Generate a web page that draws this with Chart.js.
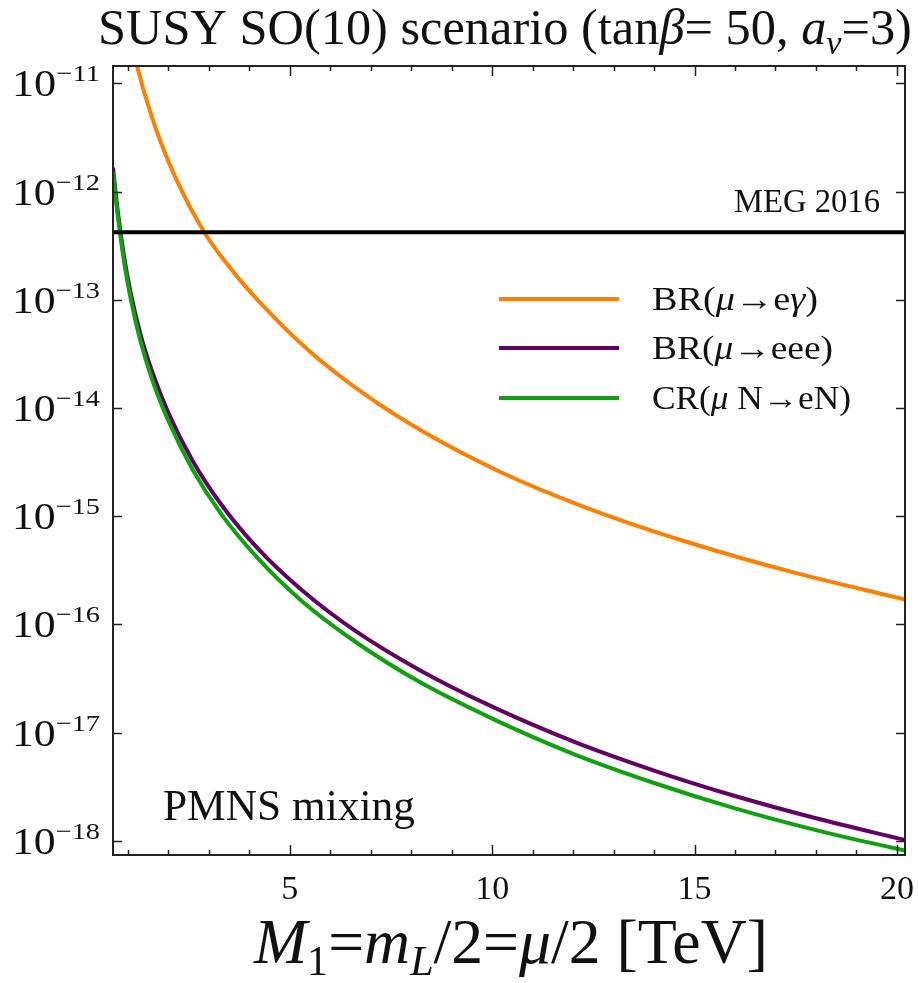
<!DOCTYPE html>
<html>
<head>
<meta charset="utf-8">
<script src="https://cdn.jsdelivr.net/npm/chart.js@4"></script>
<style>
  html, body { margin: 0; padding: 0; background: #fff; }
  canvas { display: block; }
</style>
</head>
<body>
<canvas id="lfvChart" width="918" height="983"></canvas>
<script>
// M1 [TeV] sample points
const xThreeBody = [0.63, 0.75, 0.9, 1.05, 1.3, 1.6, 2.0, 2.6, 3.3, 4.2, 5.3, 6.6, 8.2, 10, 12, 14, 16, 18, 20.2];
const xGamma = [1.1, 1.25, 1.5, 1.8, 2.2, 2.9, 3.6, 4.5, 5.5, 6.8, 8.3, 10.19, 12.3, 14.8, 17.4, 20.2];

const brMuEGamma = [2.28e-11, 1.33e-11, 6.24e-12, 2.92e-12, 1.28e-12, 4.12e-13, 1.82e-13, 7.59e-14,
  3.31e-14, 1.38e-14, 6.03e-15, 2.58e-15, 1.21e-15, 5.81e-16, 3.06e-16, 1.70e-16];
const brMuEEE = [1.66e-12, 6.46e-13, 2.55e-13, 1.24e-13, 4.93e-14, 2.15e-14, 8.99e-15, 3.24e-15,
  1.29e-15, 5.07e-16, 2.07e-16, 8.81e-17, 3.80e-17, 1.74e-17, 8.32e-18, 4.47e-18, 2.60e-18, 1.62e-18, 1.02e-18];
const crMuNeN = [1.51e-12, 5.89e-13, 2.29e-13, 1.10e-13, 4.27e-14, 1.82e-14, 7.59e-15, 2.69e-15,
  1.05e-15, 4.12e-16, 1.64e-16, 7.00e-17, 2.95e-17, 1.35e-17, 6.38e-18, 3.43e-18, 2.00e-18, 1.26e-18, 8.13e-19];

const megLimit = 4.2e-13;
const xRange = [0.63, 20.2];
const yRange = [Math.pow(10, -18.13), Math.pow(10, -10.84)];

const yTickExps = [-18, -17, -16, -15, -14, -13, -12, -11];
const xTickLabels = [5, 10, 15, 20];
const xMinorTicks = [1, 2, 3, 4, 6, 7, 8, 9, 11, 12, 13, 14, 16, 17, 18, 19];

const seriesNames = ["BR(\u03bc\u2192e\u03b3)", "BR(\u03bc\u2192eee)", "CR(\u03bc N\u2192eN)"];
const seriesColors = ["#ff8000", "#620062", "#10a010"];

const SERIF = '"Liberation Serif", "DejaVu Serif", serif';

const toPoints = (xs, ys) => xs.map((x, i) => ({ x, y: ys[i] }));
const f = (size, style) => k => `${style || ""} ${(size * k).toFixed(2)}px ${SERIF}`;

function richWidth(ctx, parts, k) {
  let w = 0;
  parts.forEach(p => { ctx.font = p[1](k); w += ctx.measureText(p[0]).width; });
  return w;
}
// text pieces [text, font, dy]; scaled so that the run is targetW wide
function drawRich(ctx, parts, x0, baseline, targetW, stretch) {
  const natural = richWidth(ctx, parts, 1);
  let k = 1, sx = 1;
  if (targetW && stretch) sx = targetW / natural;
  else if (targetW) k = targetW / natural;
  ctx.save();
  ctx.translate(x0, baseline);
  ctx.scale(sx, 1);
  let xx = 0;
  parts.forEach(p => {
    ctx.font = p[1](k);
    ctx.fillText(p[0], xx, (p[2] || 0) * k);
    xx += ctx.measureText(p[0]).width;
  });
  ctx.restore();
}

const decorations = {
  id: "decorations",
  afterDraw(chart) {
    const { ctx, chartArea: a, scales: { x, y } } = chart;
    ctx.save();
    ctx.fillStyle = "#111";
    ctx.strokeStyle = "#222";
    ctx.textBaseline = "alphabetic";

    // frame
    ctx.lineWidth = 2;
    ctx.strokeRect(a.left, a.top, a.right - a.left, a.bottom - a.top);

    // ticks, inward
    ctx.beginPath();
    yTickExps.forEach(e => {
      const py = Math.round(y.getPixelForValue(Math.pow(10, e))) + 0.5;
      ctx.moveTo(a.left, py); ctx.lineTo(a.left + 9, py);
      ctx.moveTo(a.right, py); ctx.lineTo(a.right - 9, py);
    });
    xTickLabels.forEach(v => {
      const px = Math.round(x.getPixelForValue(v)) + 0.5;
      ctx.moveTo(px, a.bottom); ctx.lineTo(px, a.bottom - 10);
      ctx.moveTo(px, a.top); ctx.lineTo(px, a.top + 10);
    });
    xMinorTicks.forEach(v => {
      const px = Math.round(x.getPixelForValue(v)) + 0.5;
      ctx.moveTo(px, a.bottom); ctx.lineTo(px, a.bottom - 5);
      ctx.moveTo(px, a.top); ctx.lineTo(px, a.top + 5);
    });
    ctx.lineWidth = 1.5;
    ctx.stroke();

    // y tick labels 10^e
    yTickExps.forEach(e => {
      const py = y.getPixelForValue(Math.pow(10, e));
      drawRich(ctx, [
        ["10", f(37)],
        ["\u2212" + String(-e), f(24), -15]
      ], 12, py + 13, 88, true);
    });

    // x tick labels
    ctx.font = `34px ${SERIF}`;
    ctx.textAlign = "center";
    xTickLabels.forEach(v => ctx.fillText(String(v), x.getPixelForValue(v), 899));
    ctx.textAlign = "left";

    // title
    drawRich(ctx, [
      ["SUSY SO(10) scenario (tan", f(34)],
      ["\u03b2", f(34, "italic")],
      ["= 50, ", f(34)],
      ["a", f(34, "italic")],
      ["\u03bd", f(23, "italic"), 7],
      ["=3)", f(34)]
    ], 98, 44, 814);

    // x axis title
    drawRich(ctx, [
      ["M", f(44, "italic")],
      ["1", f(29), 8],
      ["=", f(44)],
      ["m", f(44, "italic")],
      ["L", f(29, "italic"), 8],
      ["/2=", f(44)],
      ["\u03bc", f(44, "italic")],
      ["/2 [TeV]", f(44)]
    ], 254, 963, 514);

    // MEG label
    drawRich(ctx, [["MEG 2016", f(26)]], 734, 212, 146);

    // PMNS label
    drawRich(ctx, [["PMNS mixing", f(36)]], 163, 820, 252);

    // legend
    const legY = [299, 348, 398];
    const legW = [166, 181, 199];
    const legParts = [
      [["BR(", f(33)], ["\u03bc", f(33, "italic")], ["\u2192e", f(33)], ["\u03b3", f(33, "italic")], [")", f(33)]],
      [["BR(", f(33)], ["\u03bc", f(33, "italic")], ["\u2192eee)", f(33)]],
      [["CR(", f(33)], ["\u03bc", f(33, "italic")], [" N\u2192eN)", f(33)]]
    ];
    seriesNames.forEach((name, i) => {
      ctx.strokeStyle = seriesColors[i];
      ctx.lineWidth = 4;
      ctx.beginPath();
      ctx.moveTo(499, legY[i]); ctx.lineTo(619, legY[i]);
      ctx.stroke();
      drawRich(ctx, legParts[i], 652, legY[i] + 11, legW[i], true);
    });

    ctx.restore();
  }
};

new Chart(document.getElementById("lfvChart"), {
  type: "line",
  data: {
    datasets: [
      {
        label: "MEG 2016",
        data: toPoints(xRange, [megLimit, megLimit]),
        borderColor: "#000",
        borderWidth: 4,
        order: 0
      },
      {
        label: seriesNames[0],
        data: toPoints(xGamma, brMuEGamma),
        borderColor: seriesColors[0],
        borderWidth: 4,
        order: 1
      },
      {
        label: seriesNames[2],
        data: toPoints(xThreeBody, crMuNeN),
        borderColor: seriesColors[2],
        borderWidth: 4,
        order: 2
      },
      {
        label: seriesNames[1],
        data: toPoints(xThreeBody, brMuEEE),
        borderColor: seriesColors[1],
        borderWidth: 4,
        order: 3
      }
    ]
  },
  options: {
    responsive: false,
    animation: false,
    events: [],
    layout: { padding: { left: 113, right: 13, top: 66, bottom: 128 } },
    elements: {
      point: { radius: 0 },
      line: { cubicInterpolationMode: "monotone", fill: false }
    },
    plugins: {
      legend: { display: false },
      title: { display: false },
      tooltip: { enabled: false }
    },
    scales: {
      x: { type: "linear", min: xRange[0], max: xRange[1], display: false },
      y: { type: "logarithmic", min: yRange[0], max: yRange[1], display: false }
    }
  },
  plugins: [decorations]
});
</script>
</body>
</html>
